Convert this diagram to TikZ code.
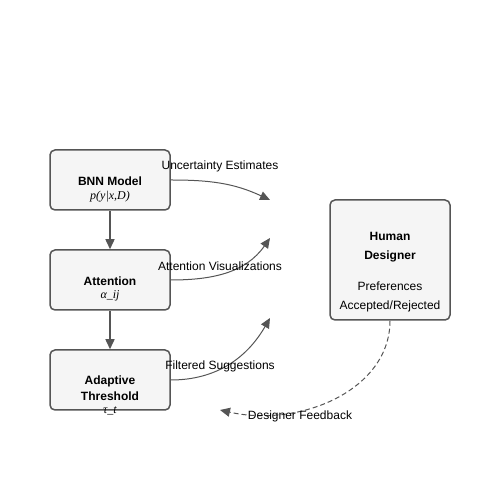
\documentclass[tikz,border=0pt]{standalone}
\usepackage{fontspec}
\setmainfont{Liberation Sans}
\newfontfamily\formfont{Liberation Serif}
\usetikzlibrary{arrows.meta}

\definecolor{edgegray}{HTML}{555555}
\definecolor{boxfill}{HTML}{F5F5F5}

\begin{document}
\begin{tikzpicture}[
        x=1pt, y=1pt,
        box/.style={draw=edgegray, fill=boxfill, line width=1.5pt, rounded corners=5pt, minimum width=120pt, minimum height=60pt},
        lbl/.style={font=\fontsize{12}{14}\selectfont, inner sep=0pt},
        head/.style={font=\fontsize{12}{14}\selectfont\bfseries, inner sep=0pt},
        form/.style={font=\fontsize{12}{14}\selectfont\formfont\itshape, inner sep=0pt},
        step arrow/.style={draw=edgegray, line width=1.5pt, -{Triangle[length=10pt,width=9pt]}},
        flow/.style={draw=edgegray, line width=1pt, -{Triangle[length=10pt,width=9pt]}},
        feedback/.style={draw=edgegray, line width=1pt, dashed, dash pattern=on 5pt off 3pt, -{Triangle[length=10pt,width=9pt]}}
    ]
    \useasboundingbox (0,0) rectangle (500,500);

    % pipeline boxes
    \node[box] (bnn) at (110,320) {};
    \node[box] (attn) at (110,220) {};
    \node[box] (thresh) at (110,120) {};
    \node[box, minimum height=120pt] (human) at (390,240) {};

    % box texts
    \node[head] (bnnname) at (110,319) {BNN Model};
    \node[form] (bnnform) at (110,303) {p(y|x,D)};
    \node[head] (attnname) at (110,219) {Attention};
    \node[form] (attnform) at (110,204) {α\_ij};
    \node[head] (threshname) at (110,119) {Adaptive};
    \node[head] (threshname2) at (110,104) {Threshold};
    \node[form] (threshform) at (110,89) {τ\_t};
    \node[head] (humanname) at (390,264) {Human};
    \node[head] (humanname2) at (390,244) {Designer};
    \node[lbl] (pref) at (390,214) {Preferences};
    \node[lbl] (accrej) at (390,194) {Accepted/Rejected};

    % free ends of the curves
    \coordinate (uncEnd) at (270,300);
    \coordinate (visEnd) at (270,262);
    \coordinate (filtEnd) at (270,182);
    \coordinate (fbEnd) at (220,90);

    % vertical steps
    \draw[step arrow] (bnn.south) -- (attn.north);
    \draw[step arrow] (attn.south) -- (thresh.north);

    % outputs to designer
    \draw[flow] (bnn.east) to[out=0, in=155] (uncEnd);
    \draw[flow] (attn.east) to[out=0, in=235] (visEnd);
    \draw[flow] (thresh.east) to[out=0, in=240] (filtEnd);

    % feedback loop
    \draw[feedback] (human.south) .. controls (390,110) and (300,72) .. (fbEnd);

    % connector labels
    \node[lbl] (unclbl) at (220,334) {Uncertainty Estimates};
    \node[lbl] (vislbl) at (220,234) {Attention Visualizations};
    \node[lbl] (filtlbl) at (220,134) {Filtered Suggestions};
    \node[lbl] (fblbl) at (300,84) {Designer Feedback};
\end{tikzpicture}
\end{document}
